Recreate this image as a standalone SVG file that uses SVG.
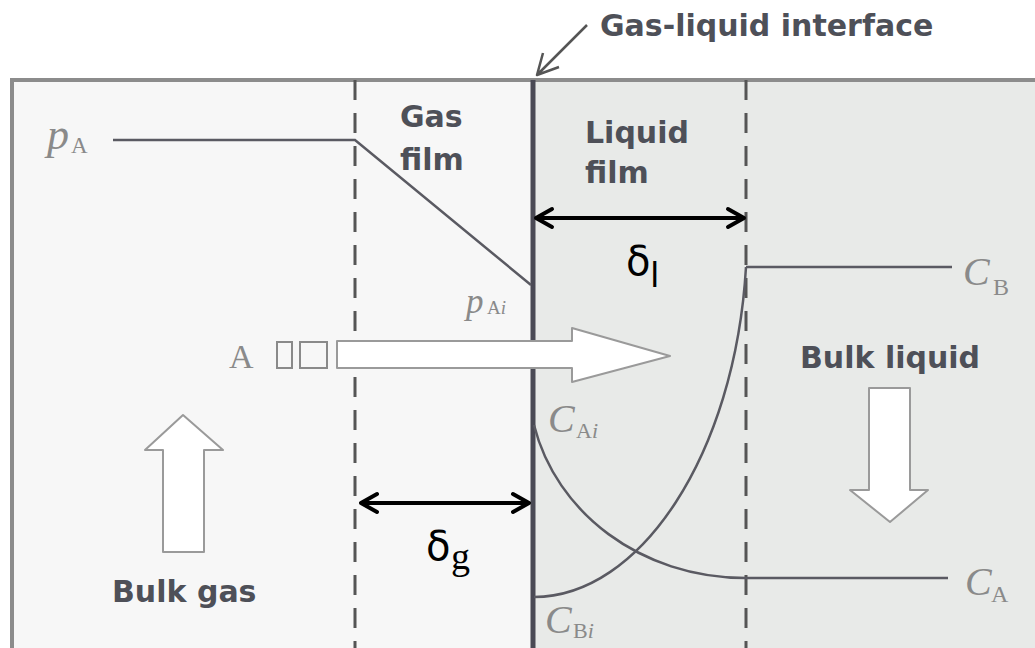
<svg xmlns="http://www.w3.org/2000/svg" width="1035" height="648" viewBox="0 0 1035 648">
  <defs>
    <style>
      .bold { font-family: "DejaVu Sans", "Liberation Sans", sans-serif; font-weight: bold; font-size: 30px; fill: #4e5058; }
      .math { font-family: "Liberation Serif", serif; font-style: italic; fill: #8a8a8a; }
      .sub { font-family: "Liberation Serif", serif; font-style: normal; fill: #8a8a8a; }
      .delta { font-family: "DejaVu Sans", sans-serif; fill: #000; }
      .dash { stroke: #555; stroke-width: 3; stroke-dasharray: 20 13; fill: none; }
      .prof { stroke: #5a5a62; stroke-width: 2.5; fill: none; }
      .hollow { fill: #fff; stroke: #9a9a9a; stroke-width: 2; stroke-linejoin: round; }
      .dim { stroke: #000; stroke-width: 4; fill: none; stroke-linecap: round; stroke-linejoin: round; }
    </style>
  </defs>

  <rect x="0" y="0" width="1035" height="648" fill="#ffffff"/>

  <g id="regions">
    <rect x="12" y="80" width="521" height="568" fill="#f7f7f7"/>
    <rect x="533" y="80" width="502" height="568" fill="#e8eae8"/>
    <path d="M12,648 V80 H1035" fill="none" stroke="#8c8c8c" stroke-width="4"/>
  </g>

  <g id="film-boundaries">
    <line class="dash" x1="355" y1="80" x2="355" y2="648"/>
    <line class="dash" x1="746" y1="80" x2="746" y2="648"/>
    <line x1="533" y1="80" x2="533" y2="648" stroke="#4a4a55" stroke-width="5"/>
  </g>

  <g id="interface-label">
    <text class="bold" x="600" y="36">Gas-liquid interface</text>
    <path d="M587,25 L537,75 M543,53 L537,75 L559,67" fill="none" stroke="#555" stroke-width="2.5" stroke-linejoin="round"/>
  </g>

  <g id="gas-film-label">
    <text class="bold" x="400" y="127">Gas</text>
    <text class="bold" x="400" y="170">film</text>
  </g>

  <g id="liquid-film-label">
    <text class="bold" x="585" y="143">Liquid</text>
    <text class="bold" x="585" y="183">film</text>
  </g>

  <g id="connectors">
    <path class="prof" d="M113,140 H355 L531,285" stroke-width="3"/>
    <line class="prof" x1="746" y1="267" x2="952" y2="267" stroke-width="3"/>
    <line class="prof" x1="746" y1="578" x2="948" y2="578" stroke-width="3"/>
    <path class="prof" d="M534,425 C556,512 640,578 746,578"/>
    <path class="prof" d="M534,597 C640,597 735,455 746,267"/>
  </g>

  <g id="pA">
    <text class="math" x="47" y="149" font-size="44">p</text>
    <text class="sub" x="71" y="153" font-size="23">A</text>
  </g>
  <g id="pAi">
    <text class="math" x="466" y="313" font-size="35">p</text>
    <text class="sub" x="487" y="314" font-size="19">A<tspan font-style="italic">i</tspan></text>
  </g>
  <g id="CB">
    <text class="math" x="963" y="285" font-size="40">C</text>
    <text class="sub" x="993" y="295" font-size="24">B</text>
  </g>
  <g id="CA">
    <text class="math" x="965" y="595" font-size="40">C</text>
    <text class="sub" x="991" y="602" font-size="24">A</text>
  </g>
  <g id="CAi">
    <text class="math" x="548" y="432" font-size="40">C</text>
    <text class="sub" x="576" y="438" font-size="22">A<tspan font-style="italic">i</tspan></text>
  </g>
  <g id="CBi">
    <text class="math" x="545" y="633" font-size="40">C</text>
    <text class="sub" x="573" y="638" font-size="22">B<tspan font-style="italic">i</tspan></text>
  </g>

  <g id="transfer-arrow">
    <text x="229" y="368" font-family="Liberation Serif, serif" font-size="34" fill="#8a8a8a">A</text>
    <rect x="277" y="342" width="15" height="26" fill="none" stroke="#8a8a8a" stroke-width="2"/>
    <rect x="300" y="342" width="27" height="26" fill="none" stroke="#8a8a8a" stroke-width="2"/>
    <polygon class="hollow" points="337,341 572,341 572,328 670,356 572,382 572,368 337,368"/>
  </g>

  <g id="bulk-gas">
    <polygon class="hollow" points="183,415 223,450 204,450 204,552 163,552 163,450 145,450"/>
    <text class="bold" x="112" y="602">Bulk gas</text>
  </g>

  <g id="bulk-liquid">
    <text class="bold" x="800" y="368">Bulk liquid</text>
    <polygon class="hollow" points="869,388 910,388 910,490 928,490 890,522 850,490 869,490"/>
  </g>

  <g id="delta-l">
    <path class="dim" d="M536,218 H744 M552,209 L536,218 L552,227 M728,209 L744,218 L728,227"/>
    <text class="delta" x="626" y="275" font-size="40">δ</text>
    <text class="delta" x="650" y="287" font-size="34">l</text>
  </g>

  <g id="delta-g">
    <path class="dim" d="M361,503 H529 M377,494 L361,503 L377,512 M513,494 L529,503 L513,512"/>
    <text class="delta" x="426" y="560" font-size="40">δ</text>
    <text x="451" y="569" font-family="Liberation Serif, serif" font-size="38" fill="#000">g</text>
  </g>
</svg>
